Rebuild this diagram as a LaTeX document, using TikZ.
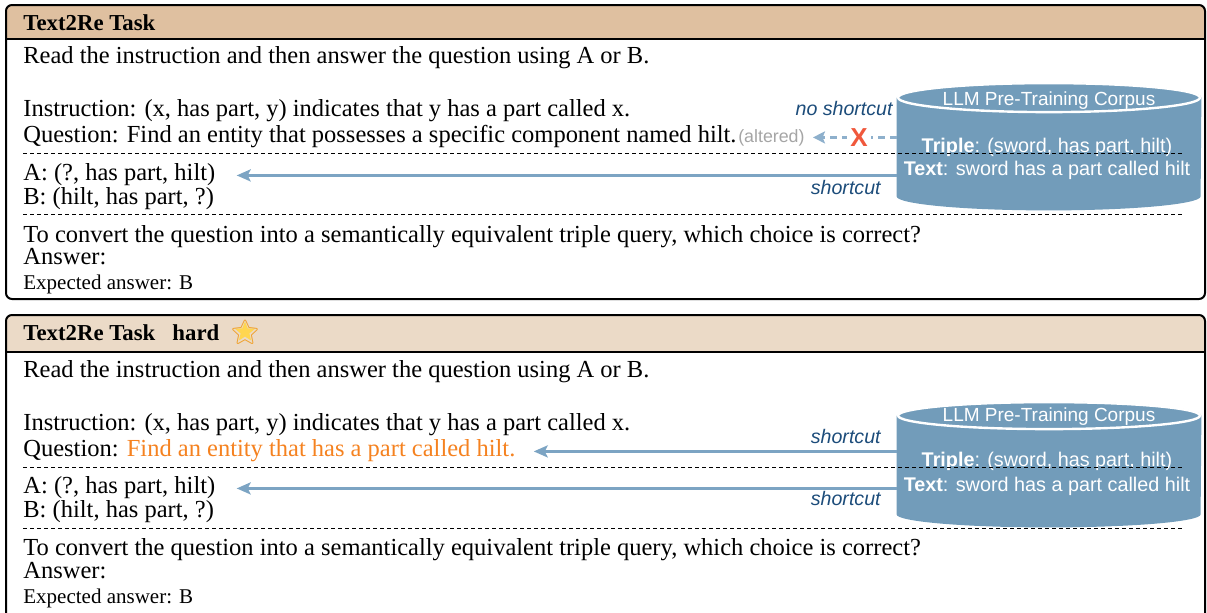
\documentclass[tikz,border=0pt]{standalone}
\usepackage{fontspec}
\setmainfont{Liberation Serif}
\setsansfont{Liberation Sans}
\newfontfamily\emojifont{Noto Emoji}
\usepackage{xcolor}
\usetikzlibrary{arrows.meta, positioning, calc, shapes.geometric}

\definecolor{tanhead}{RGB}{223,192,160}
\definecolor{tanlight}{RGB}{235,218,199}
\definecolor{dbblue}{RGB}{114,156,186}
\definecolor{arrowblue}{RGB}{124,164,195}
\definecolor{arrowpale}{RGB}{142,176,204}
\definecolor{labelblue}{RGB}{28,76,122}
\definecolor{xred}{RGB}{240,88,60}
\definecolor{qorange}{RGB}{245,130,32}
\definecolor{altgray}{RGB}{165,165,165}
\definecolor{stargold}{RGB}{255,214,80}
\definecolor{staredge}{RGB}{240,160,40}

\tikzset{
  txt/.style={anchor=base west, inner sep=0pt, font=\fontsize{12.25}{14}\selectfont},
  expct/.style={anchor=base west, inner sep=0pt, font=\fontsize{10.5}{12}\selectfont},
  ttl/.style={anchor=base west, inner sep=0pt, font=\fontsize{11.4}{13}\selectfont\bfseries},
  dbtxt/.style={inner sep=0pt, text=white, font=\sffamily\fontsize{9.9}{11}\selectfont},
  cutlbl/.style={inner sep=0pt, text=labelblue, font=\sffamily\itshape\fontsize{9.8}{11}\selectfont},
  dbbody/.style={minimum width=152pt, minimum height=49pt, inner sep=0pt},
  sepline/.style={dash pattern=on 2pt off 1.5pt, line width=0.5pt},
  taskbox/.style={line width=1pt, rounded corners=3pt},
  cutarrow/.style={-{Stealth[length=7pt, width=6pt, inset=1.5pt]}, line width=1.6pt, arrowblue},
  nocutarrow/.style={-{Stealth[length=6pt, width=6pt, inset=1.2pt]}, dash pattern=on 3.5pt off 2.5pt, line width=1.3pt, arrowpale},
}

\begin{document}
\begin{tikzpicture}[x=0.5pt, y=0.5pt]
    \useasboundingbox (0,0) rectangle (1207,-612);

    % Recuadro superior: Text2Re Task
    \begin{scope}
        \clip[rounded corners=3pt] (6,-5) rectangle (1205,-299);
        \fill[tanhead] (6,-5) rectangle (1205,-39);
    \end{scope}
    \draw[line width=0.9pt] (6,-39) -- (1205,-39);
    \draw[taskbox] (6,-5) rectangle (1205,-299);

    \node[ttl] (t1) at (23,-30) {Text2Re Task};
    \node[txt] (r1) at (23,-63) {Read the instruction and then answer the question using A or B.};
    \node[txt] (i1) at (23,-116) {Instruction: (x, has part, y) indicates that y has a part called x.};
    \node[txt] (q1) at (23,-142) {Question: Find an entity that possesses a specific component named hilt.};
    \node[anchor=base west, inner sep=0pt, text=altgray, font=\sffamily\fontsize{8.9}{10}\selectfont] (alt1) at ([xshift=0.5pt]q1.base east) {(altered)};
    \node[txt] (a1) at (23,-180) {A: (?, has part, hilt)};
    \node[txt] (b1) at (23,-204) {B: (hilt, has part, ?)};
    \node[txt] (c1) at (23,-242) {To convert the question into a semantically equivalent triple query, which choice is correct?};
    \node[txt] (ans1) at (23,-264) {Answer:};
    \node[expct] (e1) at (23,-289) {Expected answer: B};

    % Corpus 1
    \node[dbbody] (db1) at (1049,-147) {};
    \fill[dbblue] (db1.north west) -- (db1.south west)
        arc[start angle=180, end angle=360, x radius=152, y radius=14] -- (db1.north east)
        arc[start angle=0, end angle=180, x radius=152, y radius=15] -- cycle;
    \filldraw[fill=dbblue, draw=white, line width=1.2pt] (db1.north) ellipse [x radius=151, y radius=14.5];
    \node[dbtxt, font=\sffamily\fontsize{9.5}{11}\selectfont] (llm1) at (1049,-101) {LLM Pre-Training Corpus};
    \node[dbtxt] (tri1) at (1047,-147) {\textbf{Triple}: (sword, has part, hilt)};
    \node[dbtxt] (tex1) at (1047,-170) {\textbf{Text}: sword has a part called hilt};

    % Flechas
    \draw[nocutarrow] (db1.west |- alt1.mid east) -- node[pos=0.45, fill=white, inner sep=1.5pt, text=xred, font=\sffamily\bfseries\fontsize{13}{13}\selectfont] (x1) {X} ([xshift=4pt]alt1.mid east);
    \node[cutlbl, anchor=east] (nc1) at (893,-108) {no shortcut};
    \draw[cutarrow] (db1.west |- a1.mid east) -- ([xshift=10.5pt]a1.mid east);
    \node[cutlbl, anchor=east] (sc1) at (881,-187) {shortcut};

    % Separadores
    \draw[sepline] (23,-153) -- (1185,-153);
    \draw[sepline] (23,-214) -- (1185,-214);

    % Recuadro inferior: Text2Re Task hard
    \begin{scope}
        \clip[rounded corners=3pt] (6,-315) rectangle (1205,-622);
        \fill[tanlight] (6,-315) rectangle (1205,-352);
    \end{scope}
    \draw[line width=0.9pt] (6,-352) -- (1205,-352);
    \draw[taskbox] (6,-315) rectangle (1205,-622);

    \node[ttl] (t2) at (23,-340) {Text2Re Task\hspace{0.75em}hard};
    \node[star, star points=5, star point ratio=2.3, minimum size=10.5pt, inner sep=0pt, fill=stargold] (sf2) at (245,-332) {};
    \node[inner sep=0pt, text=staredge, font=\emojifont\fontsize{12}{12}\selectfont] (st2) at (sf2.center) {⭐};
    \node[txt] (r2) at (23,-377) {Read the instruction and then answer the question using A or B.};
    \node[txt] (i2) at (23,-430) {Instruction: (x, has part, y) indicates that y has a part called x.};
    \node[txt] (q2) at (23,-456) {Question: \textcolor{qorange}{Find an entity that has a part called hilt.}};
    \node[txt] (a2) at (23,-493) {A: (?, has part, hilt)};
    \node[txt] (b2) at (23,-517) {B: (hilt, has part, ?)};
    \node[txt] (c2) at (23,-555) {To convert the question into a semantically equivalent triple query, which choice is correct?};
    \node[txt] (ans2) at (23,-578) {Answer:};
    \node[expct] (e2) at (23,-603) {Expected answer: B};

    % Corpus 2
    \node[dbbody] (db2) at (1049,-465) {};
    \fill[dbblue] (db2.north west) -- (db2.south west)
        arc[start angle=180, end angle=360, x radius=152, y radius=13] -- (db2.north east)
        arc[start angle=0, end angle=180, x radius=152, y radius=14] -- cycle;
    \filldraw[fill=dbblue, draw=white, line width=1.2pt] (db2.north) ellipse [x radius=151, y radius=13.5];
    \node[dbtxt, font=\sffamily\fontsize{9.5}{11}\selectfont] (llm2) at (1049,-417) {LLM Pre-Training Corpus};
    \node[dbtxt] (tri2) at (1047,-461) {\textbf{Triple}: (sword, has part, hilt)};
    \node[dbtxt] (tex2) at (1047,-486) {\textbf{Text}: sword has a part called hilt};

    % Flechas
    \draw[cutarrow] (db2.west |- q2.mid east) -- ([xshift=9pt]q2.mid east);
    \node[cutlbl, anchor=east] (sc2) at (881,-436) {shortcut};
    \draw[cutarrow] (db2.west |- a2.mid east) -- ([xshift=10.5pt]a2.mid east);
    \node[cutlbl, anchor=east] (sc3) at (881,-498) {shortcut};

    % Separadores
    \draw[sepline] (23,-467) -- (1185,-467);
    \draw[sepline] (23,-528) -- (1185,-528);
\end{tikzpicture}
\end{document}
